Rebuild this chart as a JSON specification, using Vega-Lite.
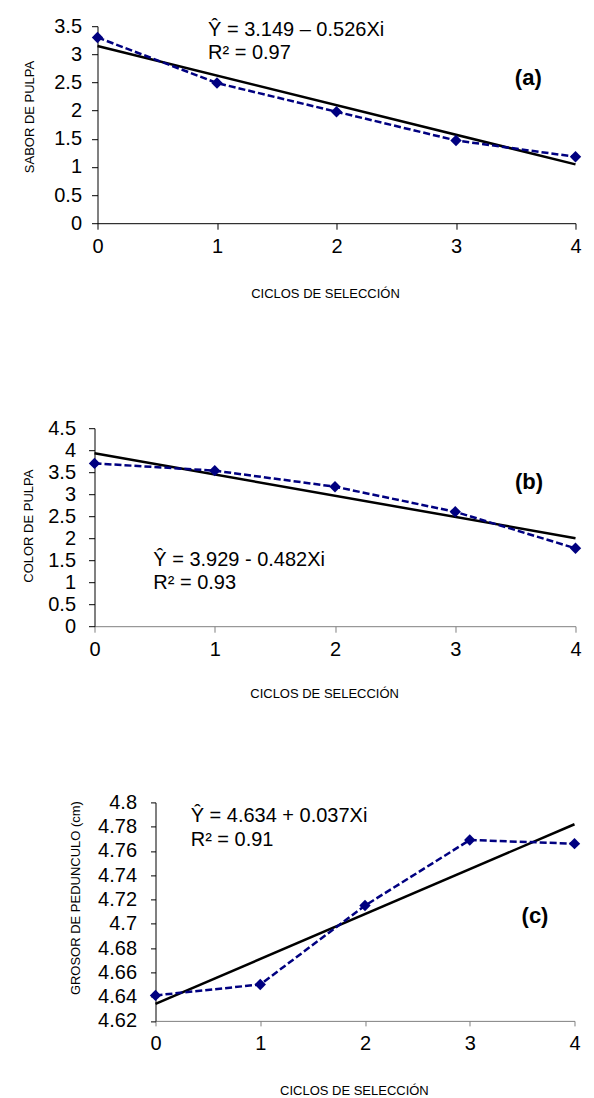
{
  "$schema": "https://vega.github.io/schema/vega-lite/v6.json",
  "padding": {"left": 17.5, "top": 16.2, "right": 0, "bottom": 0},
  "background": "white",
  "config": {
    "view": {"stroke": null},
    "font": "Liberation Sans",
    "axis": {
      "labelFont": "Liberation Sans",
      "labelFontSize": 20,
      "labelColor": "black",
      "titleFont": "Liberation Sans",
      "titleFontSize": 13,
      "titleFontWeight": "normal",
      "titleColor": "black",
      "domainColor": "black",
      "tickColor": "black",
      "grid": false,
      "labelFlush": false,
      "labelOverlap": false
    },
    "text": {"font": "Liberation Sans", "color": "black"}
  },
  "columns": 1,
  "spacing": 118,
  "align": "none",
  "concat": [
    {
      "columns": 2,
      "spacing": 0,
      "align": "none",
      "concat": [
        {"width": 5, "height": 10, "data": {"values": []}, "mark": "point"},
        {
          "width": 478,
          "height": 197,
          "encoding": {
            "x": {"field": "ciclo", "type": "quantitative", "scale": {"domain": [0, 4], "nice": false, "zero": false},
              "axis": {"values": [0, 1, 2, 3, 4], "format": "d", "title": "CICLOS DE SELECCIÓN", "titleX": 227.5, "titleY": 70, "titleBaseline": "middle", "titleAlign": "center", "labelPadding": 7.5, "tickSize": 6}},
            "y": {"field": "valor", "type": "quantitative", "scale": {"domain": [0, 3.5], "nice": false, "zero": false},
              "axis": {"values": [0, 0.5, 1, 1.5, 2, 2.5, 3, 3.5], "format": "~g", "title": "SABOR DE PULPA", "titleX": -68.3, "titleY": 90.3, "titleAngle": 270, "titleBaseline": "middle", "titleAlign": "center", "labelPadding": 10, "tickSize": 6}}
          },
          "layer": [
            {"data": {"values": [{"ciclo": 0, "valor": 3.149}, {"ciclo": 4, "valor": 1.045}]},
              "mark": {"type": "line", "color": "black", "strokeWidth": 2.5}},
            {"data": {"values": [{"ciclo": 0, "valor": 3.30}, {"ciclo": 1, "valor": 2.49}, {"ciclo": 2, "valor": 1.98}, {"ciclo": 3, "valor": 1.47}, {"ciclo": 4, "valor": 1.18}]},
              "mark": {"type": "line", "color": "#000080", "strokeWidth": 2.5, "strokeDash": [7, 3], "point": {"shape": "diamond", "size": 130, "filled": true, "color": "#000080", "opacity": 1}}},
            {"data": {"values": [{"ciclo": 0.925, "valor": 3.434, "texto": "Ŷ = 3.149 – 0.526Xi"}, {"ciclo": 0.925, "valor": 3.02, "texto": "R² = 0.97"}]},
              "mark": {"type": "text", "align": "left", "baseline": "middle", "fontSize": 20},
              "encoding": {"text": {"field": "texto"}}},
            {"data": {"values": [{"ciclo": 3.605, "valor": 2.576, "texto": "(a)"}]},
              "mark": {"type": "text", "align": "center", "baseline": "middle", "fontSize": 22, "fontWeight": "bold"},
              "encoding": {"text": {"field": "texto"}}}
          ]
        }
      ]
    },
    {
      "columns": 1,
      "spacing": 91.2,
      "align": "none",
      "concat": [
        {
          "columns": 2,
          "spacing": 0,
          "align": "none",
          "concat": [
            {"width": 4.4, "height": 10, "data": {"values": []}, "mark": "point"},
            {
              "width": 481,
              "height": 198,
              "encoding": {
                "x": {"field": "ciclo", "type": "quantitative", "scale": {"domain": [0, 4], "nice": false, "zero": false},
                  "axis": {"values": [0, 1, 2, 3, 4], "format": "d", "title": "CICLOS DE SELECCIÓN", "titleX": 229.6, "titleY": 67.3, "titleBaseline": "middle", "titleAlign": "center", "labelPadding": 7, "tickSize": 6, "domainColor": "#808080", "tickColor": "#808080"}},
                "y": {"field": "valor", "type": "quantitative", "scale": {"domain": [0, 4.5], "nice": false, "zero": false},
                  "axis": {"values": [0, 0.5, 1, 1.5, 2, 2.5, 3, 3.5, 4, 4.5], "format": "~g", "title": "COLOR DE PULPA", "titleX": -65.7, "titleY": 97.5, "titleAngle": 270, "titleBaseline": "middle", "titleAlign": "center", "labelPadding": 13, "tickSize": 6}}
              },
              "layer": [
                {"data": {"values": [{"ciclo": 0, "valor": 3.929}, {"ciclo": 4, "valor": 2.001}]},
                  "mark": {"type": "line", "color": "black", "strokeWidth": 2.5}},
                {"data": {"values": [{"ciclo": 0, "valor": 3.70}, {"ciclo": 1, "valor": 3.535}, {"ciclo": 2, "valor": 3.17}, {"ciclo": 3, "valor": 2.60}, {"ciclo": 4, "valor": 1.77}]},
                  "mark": {"type": "line", "color": "#000080", "strokeWidth": 2.5, "strokeDash": [7, 3], "point": {"shape": "diamond", "size": 130, "filled": true, "color": "#000080", "opacity": 1}}},
                {"data": {"values": [{"ciclo": 0.489, "valor": 1.502, "texto": "Ŷ = 3.929 - 0.482Xi"}, {"ciclo": 0.489, "valor": 0.972, "texto": "R² = 0.93"}]},
                  "mark": {"type": "text", "align": "left", "baseline": "middle", "fontSize": 20},
                  "encoding": {"text": {"field": "texto"}}},
                {"data": {"values": [{"ciclo": 3.613, "valor": 3.285, "texto": "(b)"}]},
                  "mark": {"type": "text", "align": "center", "baseline": "middle", "fontSize": 22, "fontWeight": "bold"},
                  "encoding": {"text": {"field": "texto"}}}
              ]
            }
          ]
        },
        {
          "columns": 2,
          "spacing": 0,
          "align": "none",
          "concat": [
            {"width": 51.9, "height": 10, "data": {"values": []}, "mark": "point"},
            {
              "width": 419,
              "height": 218.5,
              "encoding": {
                "x": {"field": "ciclo", "type": "quantitative", "scale": {"domain": [0, 4], "nice": false, "zero": false},
                  "axis": {"values": [0, 1, 2, 3, 4], "format": "d", "title": "CICLOS DE SELECCIÓN", "titleX": 198.4, "titleY": 70, "titleBaseline": "middle", "titleAlign": "center", "labelPadding": 8, "tickSize": 5, "domainColor": "#808080", "tickColor": "#808080"}},
                "y": {"field": "valor", "type": "quantitative", "scale": {"domain": [4.62, 4.8], "nice": false, "zero": false},
                  "axis": {"values": [4.62, 4.64, 4.66, 4.68, 4.7, 4.72, 4.74, 4.76, 4.78, 4.8], "format": "~g", "title": "GROSOR DE PEDUNCULO (cm)", "titleX": -79.7, "titleY": 95.2, "titleAngle": 270, "titleBaseline": "middle", "titleAlign": "center", "labelPadding": 14, "tickSize": 5}}
              },
              "layer": [
                {"data": {"values": [{"ciclo": 0, "valor": 4.634}, {"ciclo": 4, "valor": 4.782}]},
                  "mark": {"type": "line", "color": "black", "strokeWidth": 2.5}},
                {"data": {"values": [{"ciclo": 0, "valor": 4.641}, {"ciclo": 1, "valor": 4.650}, {"ciclo": 2, "valor": 4.715}, {"ciclo": 3, "valor": 4.769}, {"ciclo": 4, "valor": 4.766}]},
                  "mark": {"type": "line", "color": "#000080", "strokeWidth": 2.5, "strokeDash": [7, 3], "point": {"shape": "diamond", "size": 130, "filled": true, "color": "#000080", "opacity": 1}}},
                {"data": {"values": [{"ciclo": 0.336, "valor": 4.789, "texto": "Ŷ = 4.634 + 0.037Xi"}, {"ciclo": 0.336, "valor": 4.769, "texto": "R² = 0.91"}]},
                  "mark": {"type": "text", "align": "left", "baseline": "middle", "fontSize": 20},
                  "encoding": {"text": {"field": "texto"}}},
                {"data": {"values": [{"ciclo": 3.623, "valor": 4.7065, "texto": "(c)"}]},
                  "mark": {"type": "text", "align": "center", "baseline": "middle", "fontSize": 22, "fontWeight": "bold"},
                  "encoding": {"text": {"field": "texto"}}}
              ]
            }
          ]
        }
      ]
    }
  ]
}
